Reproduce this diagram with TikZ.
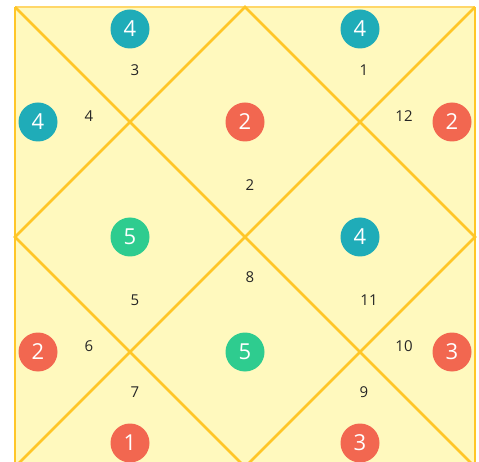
\documentclass[tikz,border=0pt]{standalone}
\usepackage{fontspec}
\setmainfont{Open Sans}
\definecolor{chartfill}{RGB}{255,249,190}
\definecolor{chartline}{RGB}{255,198,40}
\definecolor{teal}{RGB}{31,172,184}
\definecolor{coral}{RGB}{242,103,80}
\definecolor{mint}{RGB}{46,204,143}
\begin{document}
\begin{tikzpicture}[x=1pt,y=-1pt,
  planet/.style={circle,minimum size=39pt,inner sep=0pt,text=white,font=\fontsize{22}{22}\selectfont},
  house/.style={text=black!85,font=\fontsize{15}{15}\selectfont,inner sep=0pt},
  chart/.style={draw=chartline,line width=2.5pt}]
\useasboundingbox (0,0) rectangle (479,462);
\clip (0,0) rectangle (479,462);
\fill[chartfill] (15,7) rectangle (475,467);
\draw[chartline!70,line width=1.2pt] (15,7) -- (475,7);
\draw[chart] (15,7) -- (15,467) (475,7) -- (475,467);
\draw[chart] (15,7) -- (475,467);
\draw[chart] (475,7) -- (15,467);
\draw[chart] (245,7) -- (475,237) -- (245,467) -- (15,237) -- cycle;
% planets
\node[planet,fill=teal] (p1) at (130,29) {4};
\node[planet,fill=teal] (p2) at (38,122) {4};
\node[planet,fill=coral] (p3) at (245,122) {2};
\node[planet,fill=teal] (p4) at (360,29) {4};
\node[planet,fill=coral] (p5) at (452,122) {2};
\node[planet,fill=mint] (p6) at (130,237) {5};
\node[planet,fill=teal] (p7) at (360,237) {4};
\node[planet,fill=coral] (p8) at (38,352) {2};
\node[planet,fill=mint] (p9) at (245,352) {5};
\node[planet,fill=coral] (p10) at (452,352) {3};
\node[planet,fill=coral] (p11) at (130,443) {1};
\node[planet,fill=coral] (p12) at (360,443) {3};
% house numbers
\node[house] (h3) at (135,70) {3};
\node[house] (h4) at (89,116) {4};
\node[house] (h1) at (364,70) {1};
\node[house] (h12) at (404,116) {12};
\node[house] (h2) at (250,185) {2};
\node[house] (h8) at (250,277) {8};
\node[house] (h5) at (135,300) {5};
\node[house] (h11) at (369,300) {11};
\node[house] (h6) at (89,346) {6};
\node[house] (h10) at (404,346) {10};
\node[house] (h7) at (135,392) {7};
\node[house] (h9) at (364,392) {9};
\end{tikzpicture}
\end{document}
